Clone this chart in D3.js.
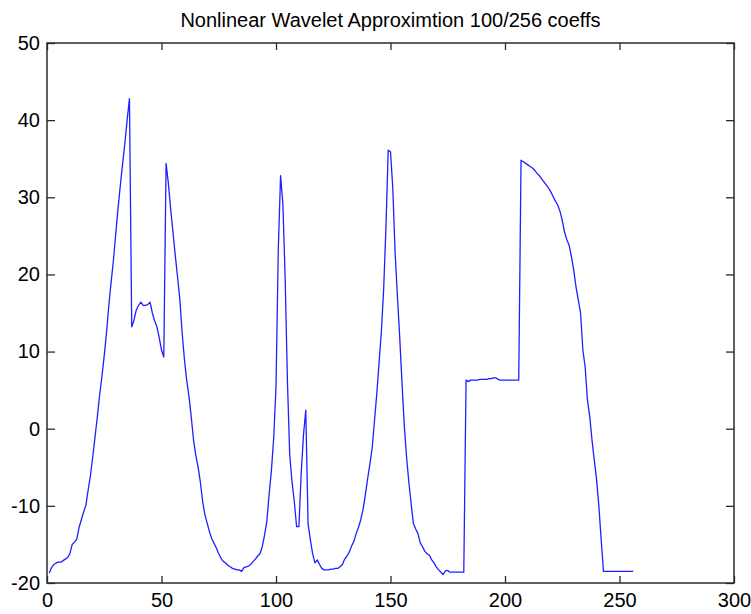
<!DOCTYPE html>
<html>
<head>
<meta charset="utf-8">
<script src="https://cdn.jsdelivr.net/npm/d3@7"></script>
<style>
  html, body { margin: 0; padding: 0; background: #fff; }
  svg { display: block; font-family: "Liberation Sans", Arial, Helvetica, sans-serif; }
</style>
</head>
<body>
<svg id="chart" width="751" height="614"></svg>
<script>
// DATA - approximation values, samples 1..256 in four chunks
const titleText = 'Nonlinear Wavelet Approximtion 100/256 coeffs';
const xTicks = [0, 50, 100, 150, 200, 250, 300];
const yTicks = [-20, -10, 0, 10, 20, 30, 40, 50];

const chunk1 = [
  -18.7, -18.0, -17.6, -17.4, -17.3, -17.3, -17.1, -16.9, -16.7, -16.2, -15.0, -14.7, -14.3, -12.8, -11.8, -10.8,
  -9.9, -7.9, -6.0, -3.6, -1.0, 1.6, 4.4, 6.8, 9.5, 12.5, 16.0, 19.0, 21.8, 25.2, 28.5, 31.5,
  34.3, 37.0, 40.0, 42.8, 13.2, 14.1, 15.4, 16.0, 16.4, 16.0, 16.0, 16.1, 16.4, 15.0, 14.0, 13.2,
  11.8, 10.2, 9.3, 34.4, 31.8, 28.5, 25.5, 22.5, 19.7, 16.8, 12.5, 9.0, 6.3, 4.2, 1.5, -1.5
];
const chunk2 = [
  -3.5, -5.0, -7.0, -9.5, -11.2, -12.3, -13.4, -14.3, -14.9, -15.5, -16.2, -16.8, -17.2, -17.4, -17.7, -17.9,
  -18.1, -18.2, -18.3, -18.3, -18.5, -18.0, -17.9, -17.8, -17.6, -17.2, -16.9, -16.5, -16.2, -15.3, -13.8, -12.0,
  -8.5, -5.4, -1.2, 5.4, 23.2, 32.8, 29.2, 19.5, 6.1, -3.4, -6.9, -9.5, -12.7, -12.7, -5.8, -0.8,
  2.4, -12.3, -14.4, -16.2, -17.4, -17.0, -17.6, -18.1, -18.3, -18.3, -18.3, -18.2, -18.2, -18.1, -18.1, -17.9
];
const chunk3 = [
  -17.6, -16.9, -16.5, -16.0, -15.2, -14.6, -13.6, -12.8, -11.8, -10.5, -8.6, -6.5, -4.6, -2.5, 1.0, 4.5,
  8.5, 12.5, 18.0, 26.0, 36.1, 35.9, 31.2, 22.9, 17.3, 12.0, 6.1, 0.5, -3.6, -6.9, -9.7, -12.3,
  -13.0, -13.6, -14.8, -15.3, -15.9, -16.2, -16.4, -17.0, -17.4, -17.9, -18.3, -18.6, -18.9, -18.4, -18.4, -18.6,
  -18.6, -18.6, -18.6, -18.6, -18.6, -18.6, 6.3, 6.1, 6.3, 6.3, 6.3, 6.3, 6.4, 6.4, 6.4, 6.4
];
const chunk4 = [
  6.5, 6.5, 6.6, 6.6, 6.4, 6.3, 6.3, 6.3, 6.3, 6.3, 6.3, 6.3, 6.3, 6.3, 34.8, 34.6,
  34.4, 34.2, 34.0, 33.8, 33.5, 33.1, 32.8, 32.4, 32.0, 31.6, 31.2, 30.7, 30.1, 29.5, 29.0, 28.2,
  27.0, 25.5, 24.5, 23.8, 22.3, 20.6, 18.4, 16.7, 15.0, 10.2, 8.0, 3.7, 1.6, -1.5, -4.1, -6.6,
  -10.1, -14.4, -18.5, -18.5, -18.5, -18.5, -18.5, -18.5, -18.5, -18.5, -18.5, -18.5, -18.5, -18.5, -18.5, -18.5
];

const values = [...chunk1, ...chunk2, ...chunk3, ...chunk4];
const points = values.map((v, i) => ({ n: i + 1, v }));

// LAYOUT
const svg = d3.select('#chart');
const box = { left: 47, right: 734, top: 43, bottom: 583 };

const x = d3.scaleLinear().domain([0, 300]).range([box.left, box.right]);
const y = d3.scaleLinear().domain([-20, 50]).range([box.bottom, box.top]);

const axisColor = '#2b2b2b';
const plainNum = d => String(d); // plain hyphen minus, like the original

// title
svg.append('text')
    .attr('x', (box.left + box.right) / 2)
    .attr('y', 27)
    .attr('text-anchor', 'middle')
    .attr('font-size', '20px')
    .attr('fill', '#000')
    .text(titleText);

// bottom axis (labels), ticks pointing inward
const gx = svg.append('g')
    .attr('transform', `translate(0,${box.bottom})`)
    .call(d3.axisBottom(x).tickValues(xTicks).tickFormat(plainNum)
        .tickSizeInner(-7).tickSizeOuter(0).tickPadding(10));

// left axis (labels)
const gy = svg.append('g')
    .attr('transform', `translate(${box.left},0)`)
    .call(d3.axisLeft(y).tickValues(yTicks).tickFormat(plainNum)
        .tickSizeInner(-8).tickSizeOuter(0).tickPadding(7));

// top + right: ticks only
const gt = svg.append('g')
    .attr('transform', `translate(0,${box.top})`)
    .call(d3.axisTop(x).tickValues(xTicks).tickSizeInner(-7).tickSizeOuter(0).tickFormat(''));

const gr = svg.append('g')
    .attr('transform', `translate(${box.right},0)`)
    .call(d3.axisRight(y).tickValues(yTicks).tickSizeInner(-8).tickSizeOuter(0).tickFormat(''));

[gx, gy, gt, gr].forEach(g => {
    g.select('.domain').remove();
    g.selectAll('.tick line').attr('stroke', axisColor).attr('stroke-width', 1.3);
    g.selectAll('.tick text')
        .attr('fill', '#000')
        .style('font-size', '20px')
        .style('font-family', '"Liberation Sans", Arial, Helvetica, sans-serif');
});

// box
svg.append('rect')
    .attr('x', box.left)
    .attr('y', box.top)
    .attr('width', box.right - box.left)
    .attr('height', box.bottom - box.top)
    .attr('fill', 'none')
    .attr('stroke', axisColor)
    .attr('stroke-width', 1.5);

// signal line
const line = d3.line()
    .x(d => x(d.n))
    .y(d => y(d.v));

svg.append('path')
    .datum(points)
    .attr('d', line)
    .attr('fill', 'none')
    .attr('stroke', '#1f1fff')
    .attr('stroke-width', 1.3)
    .attr('stroke-linejoin', 'round');
</script>
</body>
</html>
